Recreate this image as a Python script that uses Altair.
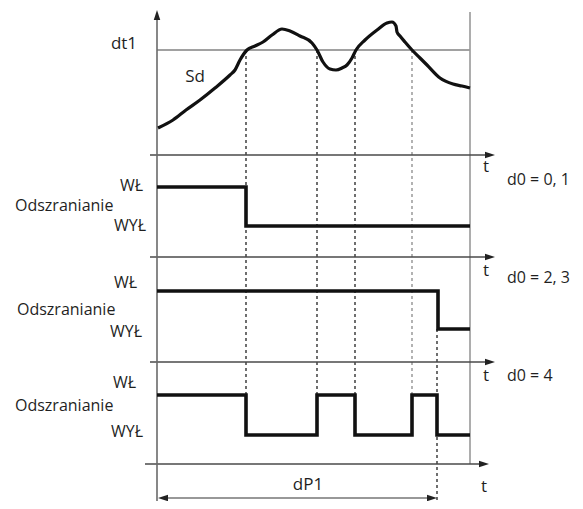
import altair as alt
import pandas as pd

FONT = "Open Sans"
INK = "#1f1f1f"

# ---- Sd temperature curve (time, level on diagram scale; larger = lower) ----
curve_t = [158, 173, 186, 200, 215, 230, 235, 240, 247, 255, 263, 272, 282, 290, 300, 312, 317, 323, 330, 336,
           342, 347, 352, 356, 365, 377, 387, 392, 396, 397, 400, 405, 412, 420, 427, 440, 453, 462, 470]
curve_y = [128, 120, 110, 100, 88, 75, 70, 60, 50, 46, 42, 35, 29, 31, 36, 43, 50, 62, 69, 70,
           68, 65, 58, 50, 40, 30, 23, 22, 26, 32, 36, 42, 50, 58, 65, 78, 84, 86, 88]

# ---- defrost signals (state 1 = WŁ, 0 = WYŁ) ----
panel_names = ["d0 = 0, 1", "d0 = 2, 3", "d0 = 4"]
panel_on_y = [187, 291, 395]
panel_off_y = [226, 329, 435]
sig_t = [
    [157, 246, 246, 470],
    [157, 438, 438, 470],
    [157, 246, 246, 317, 317, 355, 355, 412, 412, 437, 437, 470],
]
sig_s = [
    [1, 1, 0, 0],
    [1, 1, 0, 0],
    [1, 1, 0, 0, 1, 1, 0, 0, 1, 1, 0, 0],
]

# ---- frame: axes and reference lines ----
t_start, t_end = 157, 470
axis_y = [155, 257, 362, 464]
axis_x1 = [150, 150, 150, 145]
axis_x2 = [490, 490, 490, 484]
dt1_y = 50
dp1_y = 498
dp1_end = 437

# dashed markers
dash_t = [246, 317, 355, 412, 437]
dash_top = [50, 50, 50, 50, 329]
dash_bot = [395, 395, 395, 395, 509]
dash_col = ["#222222", "#222222", "#222222", "#8a8a8a", "#222222"]

# ---- tables ----
curve_df = pd.DataFrame({"t": curve_t, "y": curve_y, "o": range(len(curve_t))})

rows = []
for p, (ts, ss) in enumerate(zip(sig_t, sig_s)):
    for i, (t, s) in enumerate(zip(ts, ss)):
        rows.append({"panel": panel_names[p], "t": t, "state": s, "o": i,
                     "on": panel_on_y[p], "off": panel_off_y[p]})
sig_df = pd.DataFrame(rows)

axes_df = pd.DataFrame({"x": axis_x1, "x2": axis_x2, "y": axis_y, "y2": axis_y})
vaxis_df = pd.DataFrame({"x": [t_start], "x2": [t_start], "y": [15], "y2": [509]})
right_df = pd.DataFrame({"x": [t_end], "x2": [t_end], "y": [12], "y2": [axis_y[-1]]})
dt1_df = pd.DataFrame({"x": [t_start], "x2": [t_end], "y": [dt1_y], "y2": [dt1_y]})
dp1_df = pd.DataFrame({"x": [t_start + 6], "x2": [dp1_end - 6], "y": [dp1_y], "y2": [dp1_y]})
dash_df = pd.DataFrame({"x": dash_t, "y": dash_top, "y2": dash_bot, "c": dash_col})

arrow_df = pd.DataFrame({
    "x": [t_start, 490, 490, 490, 484, t_start + 6, dp1_end - 5],
    "y": [15, axis_y[0], axis_y[1], axis_y[2], axis_y[3], dp1_y, dp1_y],
    "a": [270, 0, 0, 0, 0, 180, 0],
})

right_lbl = pd.DataFrame({
    "x": [143, 146, 137, 142, 136, 143],
    "y": [186, 226, 283, 332, 383, 432],
    "txt": ["WŁ", "WYŁ", "WŁ", "WYŁ", "WŁ", "WYŁ"],
})
left_lbl = pd.DataFrame({
    "x": [15, 17, 15, 507, 507, 507],
    "y": [206, 310, 406, 180, 278, 376],
    "txt": ["Odszranianie", "Odszranianie", "Odszranianie"] + panel_names,
})
center_lbl = pd.DataFrame({
    "x": [124, 195, 486, 486, 486, 484, 308],
    "y": [44, 77, 167, 271, 376, 487, 485],
    "txt": ["dt1", "Sd", "t", "t", "t", "t", "dP1"],
})

X = alt.Scale(domain=[8, 575], nice=False, zero=False)
Y = alt.Scale(domain=[8, 501], nice=False, zero=False, reverse=True)


def xenc(f="x"):
    return alt.X(f"{f}:Q", scale=X, axis=None)


def yenc(f="y"):
    return alt.Y(f"{f}:Q", scale=Y, axis=None)


def rules(df, color, width, dash=None):
    kw = dict(color=color, strokeWidth=width)
    if dash:
        kw["strokeDash"] = dash
    return alt.Chart(df).mark_rule(**kw).encode(
        x=xenc(), x2="x2:Q", y=yenc(), y2="y2:Q")


layers = [
    rules(dt1_df, "#444444", 1.1),
    rules(right_df, "#999999", 1.6),
    alt.Chart(dash_df).mark_rule(strokeDash=[3, 3], strokeWidth=1.3).encode(
        x=xenc(), y=yenc(), y2="y2:Q", color=alt.Color("c:N", scale=None)),
    rules(axes_df, "#4a4a4a", 1.3),
    rules(vaxis_df, "#6a6a6a", 1.6),
    rules(dp1_df, "#333333", 1.1),
    alt.Chart(arrow_df).mark_point(
        shape="M1,0L-1,-0.65L-1,0.65Z", filled=True, size=100, color="#222222", opacity=1
    ).encode(x=xenc(), y=yenc(), angle=alt.Angle("a:Q", scale=None)),
    alt.Chart(curve_df).mark_line(color="#111111", strokeWidth=3.2, interpolate="monotone").encode(
        x=xenc("t"), y=yenc("y"), order="o:Q"),
    alt.Chart(sig_df).transform_calculate(
        yy="datum.state == 1 ? datum.on : datum.off"
    ).mark_line(color="#111111", strokeWidth=3.6, strokeJoin="miter").encode(
        x=xenc("t"), y=yenc("yy"), detail="panel:N", order="o:Q"),
    alt.Chart(right_lbl).mark_text(align="right", baseline="middle", font=FONT, fontSize=16, color=INK).encode(
        x=xenc(), y=yenc(), text="txt:N"),
    alt.Chart(left_lbl).mark_text(align="left", baseline="middle", font=FONT, fontSize=16, color=INK).encode(
        x=xenc(), y=yenc(), text="txt:N"),
    alt.Chart(center_lbl).mark_text(align="center", baseline="middle", font=FONT, fontSize=17, color=INK).encode(
        x=xenc(), y=yenc(), text="txt:N"),
]

chart = alt.layer(*layers).properties(
    width=567, height=493, padding=0, autosize=alt.AutoSizeParams(type="none"),
    background="white",
).configure_view(stroke=None)

chart.save("out.html", embed_options={"renderer": "svg", "actions": False})
